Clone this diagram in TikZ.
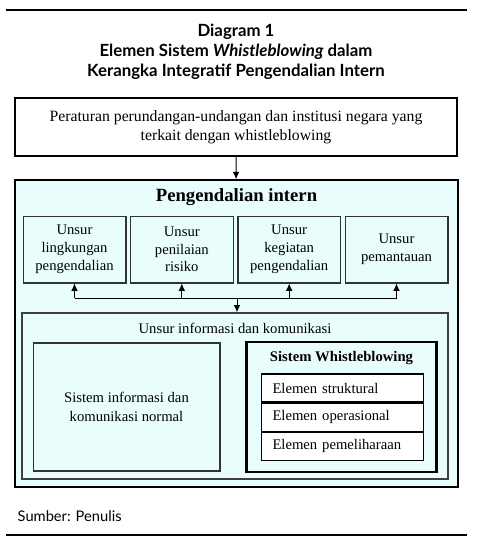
\documentclass[tikz,border=0pt]{standalone}
\usepackage{fontspec}
\setmainfont{Liberation Serif}
\newfontfamily\headfont{Lato}
\usetikzlibrary{arrows,arrows.meta,positioning}
\definecolor{paleblue}{RGB}{234,253,253}

\begin{document}
\begin{tikzpicture}
                [
                    x=0.75pt, y=-0.75pt,
                    outerbox/.style={rectangle, draw=black, line width=1.4pt, fill=paleblue, minimum width=332pt, minimum height=230pt},
                    lawbox/.style={rectangle, draw=black, line width=1pt, fill=white, minimum width=331.5pt, minimum height=43.5pt, align=center, font=\fontsize{11.8}{14.5}\selectfont},
                    unsurbox/.style={rectangle, draw=black!80, line width=1pt, fill=paleblue, minimum width=77pt, minimum height=50pt, inner sep=1pt, align=center, font=\fontsize{11}{13.3}\selectfont},
                    infobox/.style={rectangle, draw=black!75, line width=1pt, fill=paleblue, minimum width=319.5pt, minimum height=124.5pt},
                    normalbox/.style={rectangle, draw=black!80, line width=1pt, fill=paleblue, minimum width=140pt, minimum height=96pt, align=center, font=\fontsize{11}{14}\selectfont},
                    wbbox/.style={rectangle, draw=black, line width=2.2pt, fill=paleblue, minimum width=142pt, minimum height=97.5pt},
                    elemenbox/.style={rectangle, draw=black, line width=0.8pt, fill=white, inner xsep=8pt, inner ysep=0pt, text width=105pt, minimum height=21pt, align=left, font=\fontsize{11}{13}\selectfont},
                    link/.style={line width=0.75pt},
                    tip/.style={link, -{Latex[length=5.5pt,width=5pt]}},
                    rule/.style={line width=0.8pt}
                ]
                \useasboundingbox (0,0) rectangle (479,544);

                \draw [rule] (6,10) -- (467,10);
                \node [align=center, font=\headfont\bfseries\fontsize{12.6}{15}\selectfont] (title) at (236,52) {Diagram 1\\ Elemen Sistem \textit{Whistleblowing} dalam\\ Kerangka Integratif Pengendalian Intern};

                \node [lawbox] (regulasi) at (236,127) {Peraturan perundangan-undangan dan institusi negara yang\\ terkait dengan whistleblowing};

                \node [outerbox] (intern) at (236.5,333.5) {};
                \node [font=\bfseries\fontsize{14}{16}\selectfont] (interntitle) at (236.5,197) {Pengendalian intern};

                \node [unsurbox] (lingkungan) at (74.5,249.5) {Unsur\\ lingkungan\\ pengendalian};
                \node [unsurbox] (risiko) [right=2.5pt of lingkungan] {Unsur\\ penilaian\\ risiko};
                \node [unsurbox] (kegiatan) [right=2.5pt of risiko] {Unsur\\ kegiatan\\ pengendalian};
                \node [unsurbox] (pemantauan) [right=2.5pt of kegiatan] {Unsur\\ pemantauan};

                \node [infobox] (info) at (235,396) {};
                \node [font=\fontsize{11}{13}\selectfont] (infolabel) at (235,328) {Unsur informasi dan komunikasi};

                \node [normalbox] (normal) at (126.5,407) {Sistem informasi dan\\ komunikasi normal};
                \node [wbbox] (wb) at (341.5,407) {};
                \node [font=\bfseries\fontsize{11}{13}\selectfont] (wbtitle) at (341.5,358) {Sistem Whistleblowing};

                \node [elemenbox] (struktural) at (342.5,388) {Elemen struktural};
                \node [elemenbox] (operasional) [below=0pt of struktural] {Elemen operasional};
                \node [elemenbox] (pemeliharaan) [below=0pt of operasional] {Elemen pemeliharaan};

                \coordinate (hub) at (237,298);

                \draw [tip] (regulasi) -- (intern);
                \draw [link] (hub -| lingkungan.south) -- (hub -| pemantauan.south);
                \draw [tip] (hub -| lingkungan.south) -- (lingkungan.south);
                \draw [tip] (hub -| risiko.south) -- (risiko.south);
                \draw [tip] (hub -| kegiatan.south) -- (kegiatan.south);
                \draw [tip] (hub -| pemantauan.south) -- (pemantauan.south);
                \draw [tip] (hub) -- (hub |- info.north);

                \node [anchor=west, font=\headfont\fontsize{11}{13}\selectfont] (sumber) at (13,516) {Sumber: Penulis};
                \draw [rule] (6,535) -- (467,535);

            \end{tikzpicture}
\end{document}
